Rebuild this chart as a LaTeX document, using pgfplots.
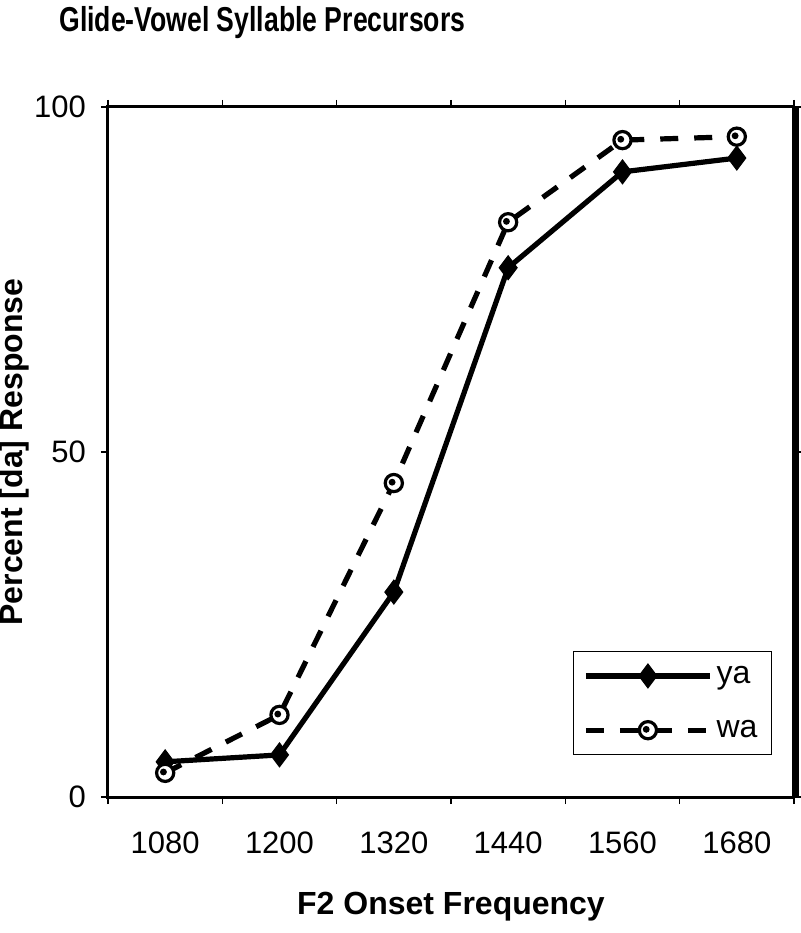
\documentclass[border=0pt]{standalone}
\usepackage{fontspec}
\setmainfont{Liberation Sans}
\usepackage{pgfplots}
\pgfplotsset{compat=1.18}
\pgfdeclareplotmark{odot}{%
  \pgfpathcircle{\pgfpointorigin}{\pgfplotmarksize}%
  \pgfusepathqfillstroke
  \begin{pgfscope}%
  \pgfpathcircle{\pgfpointadd{\pgfpointorigin}{\pgfpoint{-0.2\pgfplotmarksize}{0.1\pgfplotmarksize}}}{0.4\pgfplotmarksize}%
  \pgfsetfillcolor{black}%
  \pgfusepathqfill
  \end{pgfscope}%
}
\begin{document}
\begin{tikzpicture}
\path[use as bounding box] (0,0) rectangle (400pt,466.5pt);
\begin{axis}[
  at={(54pt,68pt)}, anchor=south west,
  width=343pt, height=345pt, scale only axis,
  xmin=-0.5, xmax=5.5, ymin=0, ymax=100,
  xtick={0,...,5},
  xticklabels={1080,1200,1320,1440,1560,1680},
  major x tick style={draw=none},
  minor xtick={-0.5,0.5,...,5.5},
  ytick={0,50,100},
  tick align=outside,
  major tick length=3.5pt, minor tick length=3.5pt,
  tick style={line width=0.8pt, black},
  axis line style={line width=1.5pt},
  /pgf/number format/assume math mode=true,
  ticklabel style={font=\fontsize{15.5}{17}\selectfont},
  xticklabel style={anchor=center, yshift=-19.5pt},
  yticklabel style={anchor=east, xshift=-4pt},
  xlabel={\textbf{F2 Onset Frequency}},
  ylabel={\textbf{Percent [da] Response}},
  label style={font=\fontsize{16}{18}\selectfont},
  xlabel style={at={(axis description cs:0.5,0)}, anchor=center, yshift=-55pt},
  ylabel style={at={(axis description cs:0,0.5)}, anchor=center, yshift=47pt},
  title={\scalebox{1}[1.3]{\textbf{Glide-Vowel Syllable Precursors}}},
  title style={at={(axis description cs:0.225,1)}, anchor=center, yshift=36pt, font=\fontsize{13.3}{15}\selectfont},
  legend style={at={(axis description cs:0.968,0.061)}, anchor=south east,
    draw=black, line width=0.6pt, font=\fontsize{16}{18}\selectfont,
    inner sep=5pt, row sep=13pt},
  legend cell align=left,
  legend image code/.code={%
    \draw[mark repeat=2,mark phase=2] plot coordinates {(0pt,0pt) (31pt,0pt) (62pt,0pt)};},
  clip=false,
]
\addplot[black, line width=2.6pt, mark=diamond*, mark size=6pt, mark options={solid, line width=0.5pt}]
  coordinates {(0,5.1) (1,6.1) (2,29.7) (3,76.7) (4,90.6) (5,92.6)};
\addlegendentry{ya}
\addplot[black, line width=2.6pt, dash pattern=on 9pt off 8pt, mark=odot, mark size=4.3pt, mark options={solid, line width=1.6pt, fill=white}]
  coordinates {(0,3.5) (1,11.9) (2,45.5) (3,83.3) (4,95.2) (5,95.7)};
\addlegendentry{wa}
\draw[line width=3.5pt] ([xshift=1pt]rel axis cs:1,0) -- ([xshift=1pt]rel axis cs:1,1);
\end{axis}
\end{tikzpicture}
\end{document}
